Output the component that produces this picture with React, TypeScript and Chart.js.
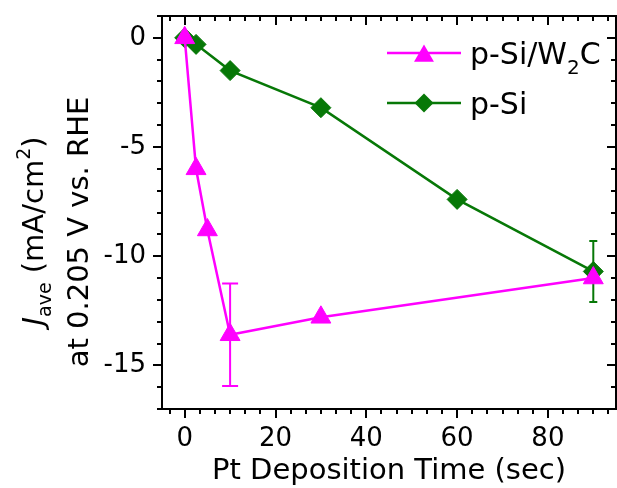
import React, { useEffect, useRef } from 'react';
import { Chart, registerables } from 'chart.js';

Chart.register(...registerables);

// ---- data ----
const xTickValues = [0, 20, 40, 60, 80];
const yTickValues = [0, -5, -10, -15];

const w2cTimes = [0, 2.5, 5, 10, 30, 90];
const w2cJ = [0, -6.0, -8.8, -13.6, -12.8, -11.0];
const w2cErr = [0, 0, 0, 2.35, 0, 0];

const siTimes = [0, 2.5, 10, 30, 60, 90];
const siJ = [0, -0.3, -1.5, -3.2, -7.4, -10.7];
const siErr = [0, 0, 0, 0, 0, 1.4];

// label pieces: [main, subscript, tail]
const w2cLabel = ['p-Si/W', '2', 'C'];
const siLabel = ['p-Si', '', ''];

const xTitle = 'Pt Deposition Time (sec)';
const yTitleLine2 = 'at 0.205 V vs. RHE';

const MAGENTA = '#FF00FF';
const GREEN = '#077807';
const FONT = 'DejaVu Sans';

const errorBarPlugin = {
  id: 'errorBars',
  beforeDatasetsDraw(chart: any) {
    const { ctx, scales } = chart;
    const xs = scales.x;
    const ys = scales.y;
    chart.data.datasets.forEach((ds: any) => {
      const errs = ds.errors;
      if (!errs) return;
      ctx.save();
      ctx.strokeStyle = ds.borderColor;
      ctx.lineWidth = 2;
      ds.data.forEach((p: any, i: number) => {
        const e = errs[i];
        if (!e) return;
        const px = xs.getPixelForValue(p.x);
        const t = ys.getPixelForValue(p.y + e);
        const b = ys.getPixelForValue(p.y - e);
        const cw = ds.capWidth / 2;
        ctx.beginPath();
        ctx.moveTo(px, t);
        ctx.lineTo(px, b);
        ctx.moveTo(px - cw, t);
        ctx.lineTo(px + cw, t);
        ctx.moveTo(px - cw, b);
        ctx.lineTo(px + cw, b);
        ctx.stroke();
      });
      ctx.restore();
    });
  },
};

function drawSegments(ctx: any, segs: any[], x: number, y: number, center: boolean) {
  let total = 0;
  segs.forEach((s) => {
    ctx.font = s.font;
    total += ctx.measureText(s.text).width;
  });
  let cx = center ? x - total / 2 : x;
  segs.forEach((s) => {
    ctx.font = s.font;
    ctx.fillText(s.text, cx, y + s.dy);
    cx += ctx.measureText(s.text).width;
  });
}

function drawMarker(ctx: any, style: string, x: number, y: number, r: number, color: string) {
  ctx.beginPath();
  if (style === 'triangle') {
    ctx.moveTo(x, y - r);
    ctx.lineTo(x + r * Math.sin((2 * Math.PI) / 3), y - r * Math.cos((2 * Math.PI) / 3));
    ctx.lineTo(x + r * Math.sin((4 * Math.PI) / 3), y - r * Math.cos((4 * Math.PI) / 3));
  } else {
    ctx.moveTo(x - r, y);
    ctx.lineTo(x, y - r);
    ctx.lineTo(x + r, y);
    ctx.lineTo(x, y + r);
  }
  ctx.closePath();
  ctx.fillStyle = color;
  ctx.fill();
}

const decorPlugin = {
  id: 'decor',
  afterDraw(chart: any) {
    const { ctx, chartArea, scales } = chart;
    const { left, right, top, bottom } = chartArea;
    const xs = scales.x;
    const ys = scales.y;
    ctx.save();
    ctx.strokeStyle = '#000';
    ctx.lineWidth = 2;
    ctx.strokeRect(left, top, right - left, bottom - top);

    // x ticks (6 subdivisions per 20)
    const xStep = 20 / 6;
    ctx.beginPath();
    for (let k = Math.ceil(xs.min / xStep); k * xStep <= xs.max + 1e-9; k++) {
      const v = k * xStep;
      const px = Math.round(xs.getPixelForValue(v));
      const len = k % 6 === 0 ? 9 : 5;
      ctx.moveTo(px, bottom);
      ctx.lineTo(px, bottom + len);
      ctx.moveTo(px, top);
      ctx.lineTo(px, top + len);
    }
    // y ticks every 1
    for (let v = Math.ceil(ys.min); v <= ys.max; v++) {
      const py = Math.round(ys.getPixelForValue(v));
      const len = v % 5 === 0 ? 9 : 5;
      ctx.moveTo(left, py);
      ctx.lineTo(left - len, py);
      ctx.moveTo(right, py);
      ctx.lineTo(right - len, py);
    }
    ctx.stroke();

    ctx.fillStyle = '#000';
    ctx.textBaseline = 'alphabetic';
    ctx.textAlign = 'left';

    // x title
    drawSegments(ctx, [{ text: xTitle, font: `29px "${FONT}"`, dy: 0 }], (left + right) / 2, 479, true);

    // y title (rotated)
    ctx.save();
    ctx.translate(43, 231);
    ctx.rotate(-Math.PI / 2);
    drawSegments(
      ctx,
      [
        { text: 'J', font: `italic 29px "${FONT}"`, dy: 0 },
        { text: 'ave', font: `19px "${FONT}"`, dy: 8 },
        { text: ' (mA/cm', font: `29px "${FONT}"`, dy: 0 },
        { text: '2', font: `19px "${FONT}"`, dy: -13 },
        { text: ')', font: `29px "${FONT}"`, dy: 0 },
      ],
      0,
      0,
      true
    );
    ctx.restore();
    ctx.save();
    ctx.translate(88, 232);
    ctx.rotate(-Math.PI / 2);
    drawSegments(ctx, [{ text: yTitleLine2, font: `29px "${FONT}"`, dy: 0 }], 0, 0, true);
    ctx.restore();

    // legend
    const items = [
      { label: w2cLabel, color: MAGENTA, marker: 'triangle', r: 11.5, y: 53 },
      { label: siLabel, color: GREEN, marker: 'diamond', r: 9.5, y: 103 },
    ];
    items.forEach((it) => {
      ctx.strokeStyle = it.color;
      ctx.lineWidth = 2.5;
      ctx.beginPath();
      ctx.moveTo(387, it.y);
      ctx.lineTo(461, it.y);
      ctx.stroke();
      const my = it.marker === 'triangle' ? it.y + it.r / 4 : it.y;
      drawMarker(ctx, it.marker, 424, my, it.r, it.color);
      ctx.fillStyle = '#000';
      const segs = [
        { text: it.label[0], font: `30px "${FONT}"`, dy: 0 },
        { text: it.label[1], font: `20px "${FONT}"`, dy: 10 },
        { text: it.label[2], font: `30px "${FONT}"`, dy: 0 },
      ].filter((s) => s.text);
      drawSegments(ctx, segs, 470, it.y + 11, false);
    });
    ctx.restore();
  },
};

export default function App() {
  const canvasRef = useRef<HTMLCanvasElement | null>(null);

  useEffect(() => {
    const canvas = canvasRef.current;
    if (!canvas) return;
    const tickFont = { family: FONT, size: 26 };
    const chart = new Chart(canvas, {
      type: 'line',
      data: {
        datasets: [
          {
            label: w2cLabel.join(''),
            data: w2cTimes.map((t, i) => ({ x: t, y: w2cJ[i] })),
            borderColor: MAGENTA,
            backgroundColor: MAGENTA,
            borderWidth: 2.5,
            pointStyle: 'triangle',
            pointRadius: 11.5,
            pointBorderWidth: 1,
            pointBorderColor: MAGENTA,
            pointBackgroundColor: MAGENTA,
            tension: 0,
            errors: w2cErr,
            capWidth: 16,
          } as any,
          {
            label: siLabel.join(''),
            data: siTimes.map((t, i) => ({ x: t, y: siJ[i] })),
            borderColor: GREEN,
            backgroundColor: GREEN,
            borderWidth: 2.5,
            pointStyle: 'rectRot',
            pointRadius: 10,
            pointBorderWidth: 1,
            pointBorderColor: GREEN,
            pointBackgroundColor: GREEN,
            tension: 0,
            errors: siErr,
            capWidth: 8,
          } as any,
        ],
      },
      options: {
        animation: false,
        responsive: false,
        devicePixelRatio: 1,
        events: [],
        layout: { autoPadding: false, padding: { top: 16, right: 1, left: 0, bottom: 0 } },
        plugins: { legend: { display: false }, tooltip: { enabled: false } },
        scales: {
          x: {
            type: 'linear',
            min: -5,
            max: 95,
            grid: { display: false, drawTicks: false },
            border: { display: false },
            ticks: { padding: 15, font: tickFont, color: '#000', autoSkip: false, maxRotation: 0 },
            afterBuildTicks: (s: any) => {
              s.ticks = xTickValues.map((v) => ({ value: v }));
            },
            afterFit: (s: any) => {
              s.height = 79;
              s.paddingLeft = 0;
              s.paddingRight = 0;
            },
          },
          y: {
            type: 'linear',
            min: -17,
            max: 1,
            grid: { display: false, drawTicks: false },
            border: { display: false },
            ticks: { padding: 16, font: tickFont, color: '#000', autoSkip: false },
            afterBuildTicks: (s: any) => {
              s.ticks = yTickValues.map((v) => ({ value: v }));
            },
            afterFit: (s: any) => {
              s.width = 162;
              s.paddingTop = 0;
              s.paddingBottom = 0;
            },
          },
        },
      } as any,
      plugins: [errorBarPlugin, decorPlugin],
    });
    return () => chart.destroy();
  }, []);

  return (
    <div style={{ position: 'absolute', left: 0, top: 0, width: 617, height: 488, background: '#fff' }}>
      <canvas ref={canvasRef} width={617} height={488} style={{ display: 'block' }} />
    </div>
  );
}
